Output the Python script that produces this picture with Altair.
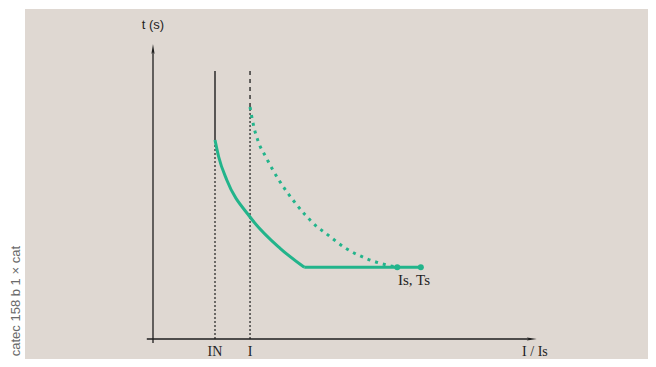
import altair as alt
import pandas as pd

# schematic units: x = I / IN (IN = 1), t in arbitrary time units
solid_x = [1.0, 1.06, 1.19, 1.565, 2.05, 2.44]
solid_t = [19.9, 18.2, 15.9, 12.2, 9.07, 7.17]
dotted_x = [1.565, 1.62, 1.70, 1.82, 2.02, 2.27, 2.45, 2.65, 2.77, 3.11, 3.47, 3.77, 3.94]
dotted_t = [23.2, 21.4, 19.7, 18.2, 16.0, 13.8, 12.45, 11.2, 10.65, 9.07, 7.97, 7.4, 7.17]
flat_x = [2.44, 4.32]
flat_t = [7.17, 7.17]
marker_x = [3.94, 4.32]
marker_t = [7.17, 7.17]

IN_x = 1.0
I_x = 1.565
line_top = 26.8
axis_x_end = 6.19
axis_t_end = 29.5

tick_labels = ["IN", "I"]
tick_x = [IN_x, I_x]
x_title = "I / Is"
y_title = "t (s)"
point_label = "Is, Ts"
side_text = "catec 158 b 1 × cat"

GREEN = "#22b48b"
INK = "#1e1e1e"
BG = "#dfd8d2"
SERIF = "Liberation Serif"
SANS = "Liberation Sans"

X = alt.Scale(domain=[-2.3387, 7.9839], nice=False, zero=False)
Y = alt.Scale(domain=[-2.0, 33.1], nice=False, zero=False)

def xe(f="x"):
    return alt.X(f"{f}:Q", scale=X, axis=None)

def ye(f="t"):
    return alt.Y(f"{f}:Q", scale=Y, axis=None)

bg = alt.Chart(pd.DataFrame({"k": [0]})).mark_rect(color=BG).encode(
    x=alt.value(17), x2=alt.value(640), y=alt.value(1), y2=alt.value(351)
)

side = alt.Chart(pd.DataFrame({"label": [side_text]})).mark_text(
    angle=270, align="right", baseline="alphabetic", font=SANS, fontSize=13, color="#6a6a6a"
).encode(x=alt.value(12), y=alt.value(238), text="label:N")

# axes drawn as rules
axis_v = alt.Chart(pd.DataFrame({"x": [0.0], "t": [-0.4], "t2": [axis_t_end - 0.6]})).mark_rule(
    color=INK, strokeWidth=1.3
).encode(x=xe(), y=ye(), y2="t2:Q")
axis_h = alt.Chart(pd.DataFrame({"x": [-0.1], "x2": [axis_x_end - 0.1], "t": [0.0]})).mark_rule(
    color=INK, strokeWidth=1.3
).encode(x=xe(), x2="x2:Q", y=ye())

arrow_up = alt.Chart(pd.DataFrame({"x": [0.0], "t": [axis_t_end]})).mark_point(
    shape="M0,0L0.32,2L0,1.6L-0.32,2Z", size=100, filled=True, color=INK, opacity=1, strokeWidth=0
).encode(x=xe(), y=ye())
arrow_right = alt.Chart(pd.DataFrame({"x": [axis_x_end], "t": [0.0]})).mark_point(
    shape="M0,0L-2,-0.32L-1.6,0L-2,0.32Z", size=100, filled=True, color=INK, opacity=1, strokeWidth=0
).encode(x=xe(), y=ye())

# vertical markers
in_solid = alt.Chart(pd.DataFrame({"x": [IN_x], "t": [solid_t[0]], "t2": [line_top]})).mark_rule(
    color=INK, strokeWidth=1.4
).encode(x=xe(), y=ye(), y2="t2:Q")
in_dot = alt.Chart(pd.DataFrame({"x": [IN_x], "t": [0.0], "t2": [solid_t[0]]})).mark_rule(
    color=INK, strokeWidth=1.2, strokeDash=[2, 2]
).encode(x=xe(), y=ye(), y2="t2:Q")
i_dash = alt.Chart(pd.DataFrame({"x": [I_x], "t": [dotted_t[0]], "t2": [line_top]})).mark_rule(
    color=INK, strokeWidth=1.3, strokeDash=[4, 4]
).encode(x=xe(), y=ye(), y2="t2:Q")
i_dot = alt.Chart(pd.DataFrame({"x": [I_x], "t": [0.0], "t2": [dotted_t[0]]})).mark_rule(
    color=INK, strokeWidth=1.2, strokeDash=[2, 2]
).encode(x=xe(), y=ye(), y2="t2:Q")

# curves
solid_curve = alt.Chart(pd.DataFrame({"x": solid_x, "t": solid_t})).mark_line(
    color=GREEN, strokeWidth=3, interpolate="monotone"
).encode(x=xe(), y=ye())
flat_line = alt.Chart(pd.DataFrame({"x": flat_x, "t": flat_t})).mark_line(
    color=GREEN, strokeWidth=3
).encode(x=xe(), y=ye())
dotted_curve = alt.Chart(pd.DataFrame({"x": dotted_x, "t": dotted_t})).mark_line(
    color=GREEN, strokeWidth=3, strokeDash=[3, 5], interpolate="monotone"
).encode(x=xe(), y=ye())
markers = alt.Chart(pd.DataFrame({"x": marker_x, "t": marker_t})).mark_point(
    shape="circle", size=36, filled=True, color=GREEN, opacity=1
).encode(x=xe(), y=ye())

# labels
ticks = alt.Chart(pd.DataFrame({"x": tick_x, "t": [-1.7, -1.7], "label": tick_labels})).mark_text(
    font=SERIF, fontSize=14, color=INK, baseline="alphabetic"
).encode(x=xe(), y=ye(), text="label:N")
xlab = alt.Chart(pd.DataFrame({"x": [6.16], "t": [-1.7], "label": [x_title]})).mark_text(
    font=SERIF, fontSize=14, color=INK, baseline="alphabetic"
).encode(x=xe(), y=ye(), text="label:N")
ylab = alt.Chart(pd.DataFrame({"x": [0.0], "t": [31.4], "label": [y_title]})).mark_text(
    font=SANS, fontSize=13, color=INK, baseline="middle"
).encode(x=xe(), y=ye(), text="label:N")
plab = alt.Chart(pd.DataFrame({"x": [4.21], "t": [5.9], "label": [point_label]})).mark_text(
    font=SERIF, fontSize=15, color=INK, baseline="middle"
).encode(x=xe(), y=ye(), text="label:N")

chart = alt.layer(
    bg, side, axis_v, axis_h, arrow_up, arrow_right,
    in_dot, i_dot, in_solid, i_dash,
    dotted_curve, solid_curve, flat_line, markers,
    ticks, xlab, ylab, plab,
).properties(
    width=640, height=351, padding=0, autosize="none", background="white"
).configure_view(stroke=None)

chart.save("out.html", embed_options={"renderer": "svg", "actions": False})
